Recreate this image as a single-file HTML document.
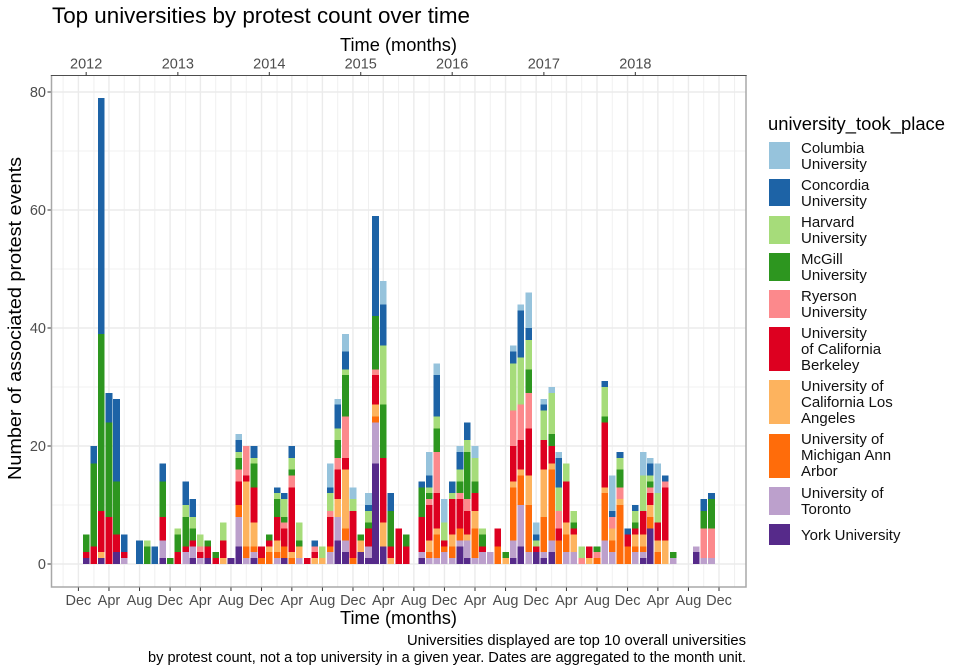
<!DOCTYPE html>
<html lang="en">
<head>
<meta charset="utf-8">
<title>Top universities by protest count over time</title>
<style>
html,body{margin:0;padding:0;background:#fff;}
svg{display:block;font-family:"Liberation Sans",sans-serif;}
.tick{font-size:14.5px;fill:#4d4d4d;}
.ax{font-size:18px;fill:#000;}
.lg{font-size:15px;fill:#111;}
.cap{font-size:14.3px;fill:#000;}
</style>
</head>
<body>
<svg id="chart" width="960" height="672" viewBox="0 0 960 672" xmlns="http://www.w3.org/2000/svg">
  <rect width="960" height="672" fill="#fff"/>
  <text x="52" y="23" font-size="22" fill="#000" textLength="418" lengthAdjust="spacingAndGlyphs">Top universities by protest count over time</text>
  <text class="ax" x="340" y="51" textLength="117" lengthAdjust="spacingAndGlyphs">Time (months)</text>
  <g id="grid"></g>
  <g id="bars" shape-rendering="crispEdges"></g>
  <g id="axes"></g>
  <text class="ax" x="340" y="624" textLength="117" lengthAdjust="spacingAndGlyphs">Time (months)</text>
  <text class="ax" transform="translate(21,318.5) rotate(-90)" text-anchor="middle" textLength="323" lengthAdjust="spacingAndGlyphs">Number of associated protest events</text>
  <text class="cap" x="746" y="645" text-anchor="end" textLength="339" lengthAdjust="spacingAndGlyphs">Universities displayed are top 10 overall universities</text>
  <text class="cap" x="746" y="662" text-anchor="end" textLength="598" lengthAdjust="spacingAndGlyphs">by protest count, not a top university in a given year. Dates are aggregated to the month unit.</text>
  <g>
    <text x="768" y="130" font-size="18" fill="#000" textLength="177" lengthAdjust="spacingAndGlyphs">university_took_place</text>
    <g>
      <rect x="769" y="142" width="21" height="27" fill="#96c3dc"/>
      <text class="lg" x="801" y="153">Columbia<tspan x="801" dy="16">University</tspan></text>
    </g>
    <g>
      <rect x="769" y="179" width="21" height="27" fill="#1d63a6"/>
      <text class="lg" x="801" y="190">Concordia<tspan x="801" dy="16">University</tspan></text>
    </g>
    <g>
      <rect x="769" y="216" width="21" height="28" fill="#a6dc7a"/>
      <text class="lg" x="801" y="227">Harvard<tspan x="801" dy="16">University</tspan></text>
    </g>
    <g>
      <rect x="769" y="253" width="21" height="28" fill="#2d961f"/>
      <text class="lg" x="801" y="264">McGill<tspan x="801" dy="16">University</tspan></text>
    </g>
    <g>
      <rect x="769" y="290" width="21" height="28" fill="#fc898c"/>
      <text class="lg" x="801" y="301">Ryerson<tspan x="801" dy="16">University</tspan></text>
    </g>
    <g>
      <rect x="769" y="327" width="21" height="44" fill="#dd0020"/>
      <text class="lg" x="801" y="338">University<tspan x="801" dy="16">of California</tspan><tspan x="801" dy="16">Berkeley</tspan></text>
    </g>
    <g>
      <rect x="769" y="380" width="21" height="44" fill="#fdb35e"/>
      <text class="lg" x="801" y="391">University of<tspan x="801" dy="16">California Los</tspan><tspan x="801" dy="16">Angeles</tspan></text>
    </g>
    <g>
      <rect x="769" y="434" width="21" height="44" fill="#ff6c0a"/>
      <text class="lg" x="801" y="444">University of<tspan x="801" dy="16">Michigan Ann</tspan><tspan x="801" dy="16">Arbor</tspan></text>
    </g>
    <g>
      <rect x="769" y="487" width="21" height="28" fill="#bca0cc"/>
      <text class="lg" x="801" y="498">University of<tspan x="801" dy="16">Toronto</tspan></text>
    </g>
    <g>
      <rect x="769" y="524" width="21" height="21" fill="#562a8a"/>
      <text class="lg" x="801" y="540">York University</text>
    </g>
  </g>
</svg>
<script>
// Categories: months 2012-01 to 2018-11
var startYear = 2012;
var yearTickLabels = [2012, 2013, 2014, 2015, 2016, 2017, 2018];
var yTickLabels = [0, 20, 40, 60, 80];
var yMinorTicks = [10, 30, 50, 70];
var monthNames = ['Dec', 'Apr', 'Aug'];

// Series values by month (one row per year, Jan..Dec)
var york = [
 1,0,1,0,2,0,0,0,0,0,1,0,
 0,0,1,0,1,0,0,1,3,0,1,0,
 0,0,1,0,0,0,0,0,0,4,2,0,
 2,1,17,3,0,0,0,0,1,0,0,0,
 0,3,1,0,0,0,0,0,1,3,0,2,
 1,2,0,0,0,0,0,0,0,0,0,0,
 0,1,6,0,0,0,0,0,2,0,0];
var toronto = [
 0,0,0,0,0,1,0,0,0,0,3,0,
 0,2,2,1,0,0,0,0,5,1,1,0,
 0,1,0,0,1,0,0,0,2,4,2,0,
 0,2,7,0,0,0,0,0,1,1,1,2,
 1,1,3,1,2,2,0,0,3,7,2,0,
 1,2,0,2,2,0,0,0,4,2,0,0,
 2,1,0,0,0,1,0,0,1,1,1];
var michigan = [
 0,0,0,0,0,0,0,0,0,0,0,0,
 0,0,0,0,0,0,0,0,2,2,1,1,
 2,1,2,1,0,0,0,0,1,0,2,1,
 0,0,1,0,0,0,0,0,0,1,4,1,
 2,2,0,5,0,0,3,0,9,5,8,0,
 6,12,4,3,0,0,0,1,8,2,10,3,
 1,1,2,2,0,0,0,0,0,0,0];
var ucla = [
 0,0,1,0,0,0,0,0,0,0,0,0,
 0,0,0,0,0,0,1,0,0,11,4,0,
 1,2,0,1,2,0,1,1,0,3,10,0,
 2,0,2,4,1,0,0,0,0,2,1,0,
 2,0,1,3,0,0,0,1,1,1,5,0,
 8,1,0,2,3,0,1,0,1,2,1,0,
 2,2,2,2,4,0,0,0,0,0,0];
var berkeley = [
 1,3,7,8,3,1,0,0,0,0,4,0,
 2,1,1,1,2,1,3,0,4,1,6,2,
 1,4,3,11,0,1,1,0,5,5,2,8,
 0,3,5,11,2,6,3,0,6,6,6,1,
 6,5,4,3,1,0,3,0,6,5,8,1,
 5,3,2,7,1,0,2,0,11,0,0,2,
 1,4,2,3,9,0,0,0,0,0,0];
var ryerson = [
 0,0,0,0,0,0,0,0,0,0,0,0,
 0,0,0,1,0,0,0,0,2,5,0,0,
 0,0,1,2,0,0,1,0,1,2,7,0,
 0,0,1,0,0,0,0,0,0,1,7,0,
 0,1,2,0,0,0,0,0,6,6,6,0,
 0,0,3,0,0,1,0,1,0,2,2,0,
 0,0,1,0,1,0,0,0,0,5,5];
var mcgill = [
 3,14,30,16,9,0,0,0,3,0,6,1,
 3,5,2,0,1,1,0,0,2,0,4,0,
 1,3,1,1,1,0,0,0,0,3,7,0,
 1,1,9,9,6,0,2,0,5,1,4,0,
 0,2,8,2,2,0,0,1,0,0,4,0,
 0,2,0,0,1,0,0,1,1,0,3,0,
 1,0,1,0,0,1,0,0,0,3,5];
var harvard = [
 0,0,0,0,0,0,0,0,1,0,0,0,
 1,2,2,2,0,0,3,0,1,0,1,0,
 0,1,3,2,3,0,0,2,3,2,1,2,
 0,2,0,10,0,0,0,0,0,1,2,3,
 1,2,2,4,1,0,0,0,8,8,5,1,
 5,7,4,3,2,2,0,0,5,0,2,0,
 2,6,1,5,0,0,0,0,0,0,0];
var concordia = [
 0,3,40,5,14,3,0,4,0,3,3,0,
 0,4,3,0,0,0,0,0,2,0,2,0,
 0,1,1,2,0,0,1,0,1,4,3,0,
 0,1,17,7,3,0,0,0,1,2,7,0,
 2,3,3,0,0,0,0,0,2,8,2,1,
 1,0,5,0,0,0,0,0,1,1,1,1,
 1,0,2,0,1,0,0,0,0,2,1];
var columbia = [
 0,0,0,0,0,0,0,0,0,0,0,0,
 0,0,0,0,0,0,0,0,1,0,0,0,
 0,0,0,0,0,0,0,0,4,1,3,2,
 0,2,0,4,0,0,0,0,0,4,2,4,
 0,1,0,2,0,0,0,0,1,1,6,2,
 1,1,1,0,0,0,0,0,0,6,0,0,
 0,4,1,5,0,0,0,0,0,0,0];

// Stack order bottom to top
var stackNames = ['york','toronto','michigan','ucla','berkeley','ryerson','mcgill','harvard','concordia','columbia'];
var stackSeries = [york,toronto,michigan,ucla,berkeley,ryerson,mcgill,harvard,concordia,columbia];
var stackColors = ['#562a8a','#bca0cc','#ff6c0a','#fdb35e','#dd0020','#fc898c','#2d961f','#a6dc7a','#1d63a6','#96c3dc'];

var NS = 'http://www.w3.org/2000/svg';
var panel = {left:51.5, right:746, top:75.5, bottom:587};
var barWidth = 6.6;
function xScale(year, month) {
  var days = (Date.UTC(year, month, 1) - Date.UTC(2011, 11, 1)) / 86400000;
  return 78.4 + days * (719 - 78.4) / 2557;
}
function yScale(v) { return 564 - v * 5.9; }
function make(tag, attrs, parent) {
  var e = document.createElementNS(NS, tag);
  for (var k in attrs) e.setAttribute(k, attrs[k]);
  parent.appendChild(e);
  return e;
}
var gridG = document.getElementById('grid');
var barsG = document.getElementById('bars');
var axesG = document.getElementById('axes');

// Grid: horizontal
yMinorTicks.forEach(function (v) {
  var l = make('line', {x1:panel.left, x2:panel.right, y1:yScale(v), y2:yScale(v), stroke:'#f0f0f0', 'stroke-width':1}, gridG);
  
  
});
// Grid: vertical, every two months from Oct 2011
for (var g = 0; g < 45; g++) {
  var gm = 9 + g * 2;
  var gx = xScale(2011, gm);
  if (gx > panel.right) break;
  var major = (gm - 11) % 4 === 0;
  var vl = make('line', {x1:gx, x2:gx, y1:panel.top, y2:panel.bottom, stroke: major ? '#ebebeb' : '#f0f0f0', 'stroke-width': major ? 1.4 : 1}, gridG);
  
  
}
yTickLabels.forEach(function (v) {
  var l = make('line', {x1:panel.left, x2:panel.right, y1:yScale(v), y2:yScale(v), stroke:'#ebebeb', 'stroke-width':1.4}, gridG);
  
  
});

// Bars
york.forEach(function (_, i) {
  var year = startYear + Math.floor(i / 12), month = i % 12, acc = 0;
  var cx = xScale(year, month);
  stackSeries.forEach(function (values, s) {
    var v = values[i];
    if (!v) return;
    var r = make('rect', {x:cx - barWidth / 2, width:barWidth, y:yScale(acc + v), height:yScale(acc) - yScale(acc + v), fill:stackColors[s]}, barsG);
    
    
    acc += v;
  });
});

// Panel border
var bd = make('path', {d:'M' + panel.left + ' ' + panel.top + 'V' + panel.bottom + 'H' + panel.right + 'V' + panel.top, fill:'none', stroke:'#a8a8a8', 'stroke-width':1.5}, axesG);


var tl = make('line', {x1:panel.left - 0.7, x2:panel.right + 0.7, y1:panel.top, y2:panel.top, stroke:'#4d4d4d', 'stroke-width':1}, axesG);



// Y axis
yTickLabels.forEach(function (v) {
  var t = make('line', {x1:47.5, x2:50.8, y1:yScale(v), y2:yScale(v), stroke:'#333', 'stroke-width':1}, axesG);
  
  
  var lb = make('text', {x:46, y:yScale(v) + 5, 'text-anchor':'end', 'class':'tick'}, axesG);
  lb.textContent = v;
  
  
});
// Top axis: years
yearTickLabels.forEach(function (yr) {
  var x = xScale(yr, 0);
  var t = make('line', {x1:x, x2:x, y1:72, y2:75.5, stroke:'#333', 'stroke-width':1}, axesG);
  
  
  var lb = make('text', {x:x, y:68.5, 'text-anchor':'middle', 'class':'tick'}, axesG);
  lb.textContent = yr;
  
  
});
// Bottom axis: Dec / Apr / Aug
for (var b = 0; b <= 21; b++) {
  var bm = 11 + b * 4;
  var bx = xScale(2011, bm);
  var tk = make('line', {x1:bx, x2:bx, y1:587.5, y2:591, stroke:'#333', 'stroke-width':1}, axesG);
  
  
  var tx = make('text', {x:bx, y:605, 'text-anchor':'middle', 'class':'tick'}, axesG);
  tx.textContent = monthNames[b % 3];
  
  
}
</script>
</body>
</html>
